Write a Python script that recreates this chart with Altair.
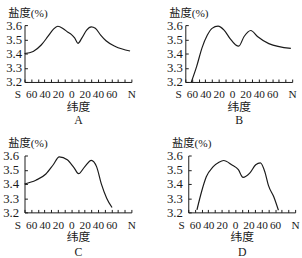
import altair as alt
import pandas as pd

# Panel A
lat_a = [-70, -57, -45, -35, -27, -20, -12, -5, 0, 5, 10, 16, 23, 30, 36, 44, 52, 66, 88]
sal_a = [3.40, 3.415, 3.46, 3.52, 3.57, 3.592, 3.575, 3.55, 3.535, 3.51, 3.472, 3.51, 3.565, 3.588, 3.578, 3.53, 3.49, 3.45, 3.418]
# Panel B
lat_b = [-61, -53, -45, -37, -30, -21, -12, -3, 5, 10, 18, 28, 38, 55, 88]
sal_b = [3.20, 3.31, 3.44, 3.53, 3.577, 3.593, 3.565, 3.505, 3.462, 3.452, 3.52, 3.562, 3.52, 3.47, 3.436]
# Panel C
lat_c = [-70, -53, -38, -27, -18, -6, 4, 11, 20, 30, 38, 45, 53, 61]
sal_c = [3.40, 3.426, 3.47, 3.535, 3.59, 3.57, 3.515, 3.472, 3.52, 3.566, 3.52, 3.40, 3.30, 3.234]
# Panel D
lat_d = [-57, -50, -43, -33, -24, -17, -5, 5, 12, 22, 31, 38, 45, 50, 58, 65]
sal_d = [3.218, 3.347, 3.45, 3.52, 3.553, 3.565, 3.535, 3.50, 3.446, 3.476, 3.535, 3.548, 3.48, 3.39, 3.31, 3.215]

letters = ["A", "B", "C", "D"]
x_ticks = list(range(-70, 91, 10))
y_ticks = [3.2, 3.3, 3.4, 3.5, 3.6]

FONT = "Liberation Serif, Noto Sans CJK SC"
INK = "#1a1a1a"


def panel(lat, sal, letter, ylab_pad, xlab_pad, title_pad, line_h):
    df = pd.DataFrame({"lat": lat, "sal": sal})
    return alt.Chart(df).mark_line(
        interpolate="monotone", color=INK, strokeWidth=1.2
    ).encode(
        x=alt.X(
            "lat:Q",
            scale=alt.Scale(domain=[-70, 90], nice=False, zero=False),
            axis=alt.Axis(
                values=x_ticks,
                labelExpr="datum.value == -70 ? 'S' : (datum.value == 90 ? 'N' : ((datum.value % 20 == 0 && abs(datum.value) <= 60) ? '' + abs(datum.value) : ''))",
                labelAlign={"condition": {"test": "datum.value == -70", "value": "right"}, "value": "center"},
                labelOffset={"condition": {"test": "datum.value == -70", "value": -4}, "value": 0},
                labelOverlap=False,
                labelFlush=False,
                labelFontSize=11.5,
                labelPadding=xlab_pad,
                tickSize={"expr": "-3"},
                title=["纬度", letter],
                titleFontSize=12,
                titleLineHeight=line_h,
                titlePadding=title_pad,
                titleFontWeight="normal",
            ),
        ),
        y=alt.Y(
            "sal:Q",
            scale=alt.Scale(domain=[3.2, 3.6], nice=False, zero=False),
            axis=alt.Axis(
                values=y_ticks,
                format=".1f",
                labelFontSize=13,
                labelPadding=ylab_pad,
                tickSize={"expr": "-3"},
                title="盐度(%)",
                titleAngle=0,
                titleAlign="left",
                titleBaseline="bottom",
                titleX=-17,
                titleY=-7,
                titleFontSize=11.5,
                titleFontWeight="normal",
            ),
        ),
    ).properties(width=109, height=58)


pa = panel(lat_a, sal_a, letters[0], 6, 10, 2, 13)
pb = panel(lat_b, sal_b, letters[1], 6, 10, 2, 13)
pc = panel(lat_c, sal_c, letters[2], 9, 10, 1, 15)
pd_ = panel(lat_d, sal_d, letters[3], 9, 10, 1, 15)

chart = alt.vconcat(
    alt.hconcat(pa, pb, spacing=30),
    alt.hconcat(pc, pd_, spacing=30),
    spacing=12,
).properties(
    padding={"left": 2, "top": 5, "right": 2, "bottom": 2},
    background="white",
).configure_view(stroke=None).configure_axis(
    grid=False,
    domainColor=INK,
    tickColor=INK,
    labelColor=INK,
    titleColor=INK,
    labelFont=FONT,
    titleFont=FONT,
    domainWidth=1,
    tickWidth=1,
)

chart.save("out.html", embed_options={"renderer": "svg", "actions": False})
